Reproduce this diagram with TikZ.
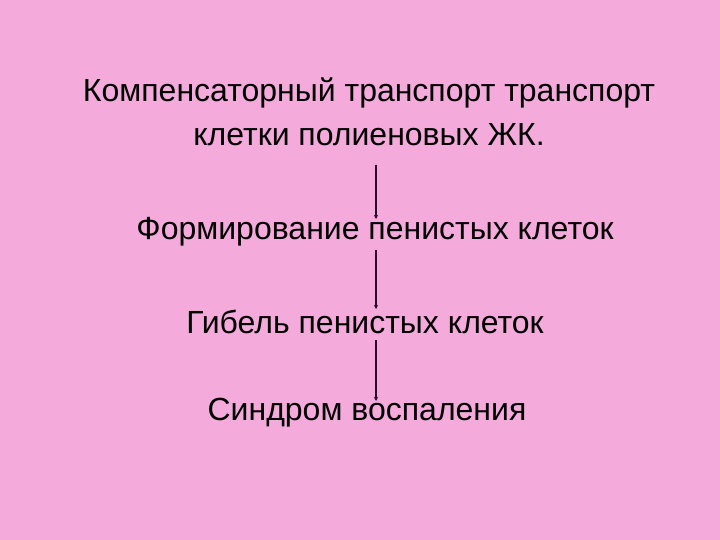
\documentclass[tikz,border=0pt]{standalone}
\usepackage{fontspec}
\setmainfont{Liberation Sans}
\usetikzlibrary{arrows.meta}
\definecolor{bg}{HTML}{F5AADC}
\definecolor{ln}{HTML}{2A0A2A}
\begin{document}
\begin{tikzpicture}[x=1pt,y=-1pt,
  txt/.style={font=\fontsize{32}{38}\selectfont,text=black,align=center,inner sep=0pt},
  conn/.style={draw=ln,line width=1.3pt,-{Stealth[length=4pt,width=4pt]}}]
\fill[bg] (0,0) rectangle (720,540);
\useasboundingbox (0,0) rectangle (720,540);
\node[txt] (t1) at (369,93) {Компенсаторный транспорт транспорт};
\node[txt] (t2) at (369,135) {клетки полиеновых ЖК.};
\node[txt] (t3) at (375,232) {Формирование пенистых клеток};
\node[txt] (t4) at (365,322) {Гибель пенистых клеток};
\node[txt] (t5) at (367,413) {Синдром воспаления};
\coordinate (a1) at (376,165); \coordinate (b1) at (376,219);
\coordinate (a2) at (376,250); \coordinate (b2) at (376,309);
\coordinate (a3) at (376,340); \coordinate (b3) at (376,401);
\draw[conn] (a1) -- (b1);
\draw[conn] (a2) -- (b2);
\draw[conn] (a3) -- (b3);
\end{tikzpicture}
\end{document}
